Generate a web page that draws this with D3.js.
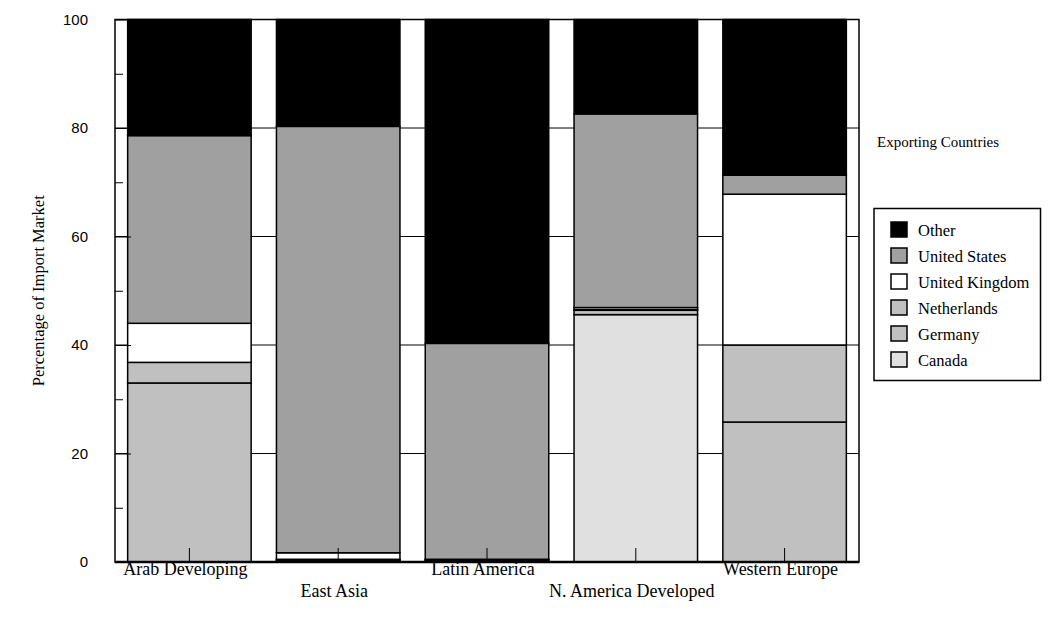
<!DOCTYPE html>
<html>
<head>
<meta charset="utf-8">
<script src="https://cdn.jsdelivr.net/npm/d3@7"></script>
<style>
  body { margin: 0; background: #fff; }
  svg { display: block; }
</style>
</head>
<body>
<svg id="chart" width="1062" height="628"></svg>
<script>
// ---- data ----
const regions = ["Arab Developing", "East Asia", "Latin America", "N. America Developed", "Western Europe"];
const seriesNames = ["Canada", "Germany", "Netherlands", "United Kingdom", "United States", "Other"];
const canada        = [0.0, 0.2, 0.2, 45.6, 0.0];
const germany       = [33.0, 0.2, 0.2, 0.8, 25.8];
const netherlands   = [3.8, 0.1, 0.1, 0.1, 14.2];
const unitedKingdom = [7.2, 1.2, 0.0, 0.4, 27.8];
const unitedStates  = [34.6, 78.6, 39.8, 35.7, 3.5];
const other         = [21.4, 19.7, 59.7, 17.4, 28.7];
const yTicks = [0, 20, 40, 60, 80, 100];
const yMinorTicks = [10, 30, 50, 70, 90];
const legendOrder = ["Other", "United States", "United Kingdom", "Netherlands", "Germany", "Canada"];
const colors = {
  "Canada": "#e0e0e0",
  "Germany": "#c0c0c0",
  "Netherlands": "#c0c0c0",
  "United Kingdom": "#ffffff",
  "United States": "#a0a0a0",
  "Other": "#000000"
};

const seriesValues = [canada, germany, netherlands, unitedKingdom, unitedStates, other];
const table = regions.map((r, i) => {
  const row = { region: r };
  seriesNames.forEach((s, j) => row[s] = seriesValues[j][i]);
  return row;
});

// ---- layout ----
const svg = d3.select("#chart");
const pLeft = 115, pRight = 859, pTop = 19.5, pBottom = 562;

const x = d3.scaleBand().domain(regions).range([pLeft, pRight]).paddingInner(0.17).paddingOuter(0.085);
const y = d3.scaleLinear().domain([0, 100]).range([pBottom, pTop]);

const serif = "'Liberation Serif', 'Times New Roman', serif";
const sans = "'Liberation Sans', Arial, sans-serif";

// gridlines behind bars
svg.append("g").selectAll("line").data(yTicks.filter(d => d > 0 && d < 100)).join("line")
  .attr("x1", pLeft).attr("x2", pRight)
  .attr("y1", d => y(d)).attr("y2", d => y(d))
  .attr("stroke", "#000").attr("stroke-width", 1);

// stacked bars
const stack = d3.stack().keys(seriesNames)(table);
const gBars = svg.append("g");
stack.forEach(layer => {
  gBars.append("g").selectAll("rect").data(layer).join("rect")
    .attr("x", d => x(d.data.region))
    .attr("width", x.bandwidth())
    .attr("y", d => y(d[1]))
    .attr("height", d => Math.max(0, y(d[0]) - y(d[1])))
    .attr("fill", colors[layer.key])
    .attr("stroke", "#000")
    .attr("stroke-width", d => (d[1] - d[0]) > 0 ? 1.5 : 0);
});

// frame
svg.append("rect")
  .attr("x", pLeft).attr("y", pTop)
  .attr("width", pRight - pLeft).attr("height", pBottom - pTop)
  .attr("fill", "none").attr("stroke", "#000").attr("stroke-width", 1.5);
svg.append("line")
  .attr("x1", pLeft).attr("x2", pRight).attr("y1", pBottom).attr("y2", pBottom)
  .attr("stroke", "#000").attr("stroke-width", 2.5);

// y axis (ticks inward)
const yAxis = d3.axisRight(y).tickValues(yTicks).tickSize(16).tickFormat("");
const gy = svg.append("g").attr("transform", `translate(${pLeft},0)`).call(yAxis);
gy.select(".domain").remove();
gy.selectAll(".tick line").attr("stroke", "#000").attr("stroke-width", 1);

const yAxisMinor = d3.axisRight(y).tickValues(yMinorTicks).tickSize(8).tickFormat("");
const gym = svg.append("g").attr("transform", `translate(${pLeft},0)`).call(yAxisMinor);
gym.select(".domain").remove();
gym.selectAll(".tick line").attr("stroke", "#000").attr("stroke-width", 1);

// y tick labels
svg.append("g").selectAll("text").data(yTicks).join("text")
  .attr("x", 88).attr("y", d => y(d))
  .attr("dy", "0.35em")
  .attr("text-anchor", "end")
  .attr("font-family", sans).attr("font-size", 15)
  .text(d => d);

// x ticks (inward from bottom)
const xAxis = d3.axisTop(x).tickSize(14).tickFormat("");
const gx = svg.append("g").attr("transform", `translate(0,${pBottom})`).call(xAxis);
gx.select(".domain").remove();
gx.selectAll(".tick line").attr("stroke", "#000").attr("stroke-width", 1);

// x labels staggered
svg.append("g").selectAll("text").data(regions).join("text")
  .attr("x", d => x(d) + x.bandwidth() / 2 - 4)
  .attr("y", (d, i) => i % 2 === 0 ? 575 : 597)
  .attr("text-anchor", "middle")
  .attr("font-family", serif).attr("font-size", 18)
  .text(d => d);

// y title
svg.append("text")
  .attr("transform", `translate(44,${(pTop + pBottom) / 2}) rotate(-90)`)
  .attr("text-anchor", "middle")
  .attr("font-family", serif).attr("font-size", 16.5)
  .text("Percentage of Import Market");

// legend title
svg.append("text")
  .attr("x", 877).attr("y", 147)
  .attr("font-family", serif).attr("font-size", 15)
  .text("Exporting Countries");

// legend
const lg = svg.append("g");
lg.append("rect")
  .attr("x", 874).attr("y", 208.5).attr("width", 166.5).attr("height", 172)
  .attr("fill", "#fff").attr("stroke", "#000").attr("stroke-width", 1.5);
const items = lg.selectAll("g.item").data(legendOrder).join("g")
  .attr("class", "item")
  .attr("transform", (d, i) => `translate(891,${222 + i * 26})`);
items.append("rect")
  .attr("width", 16).attr("height", 15)
  .attr("fill", d => colors[d]).attr("stroke", "#000").attr("stroke-width", 1.5);
items.append("text")
  .attr("x", 27).attr("y", 8).attr("dy", "0.35em")
  .attr("font-family", serif).attr("font-size", 16.5)
  .text(d => d);
</script>
</body>
</html>
